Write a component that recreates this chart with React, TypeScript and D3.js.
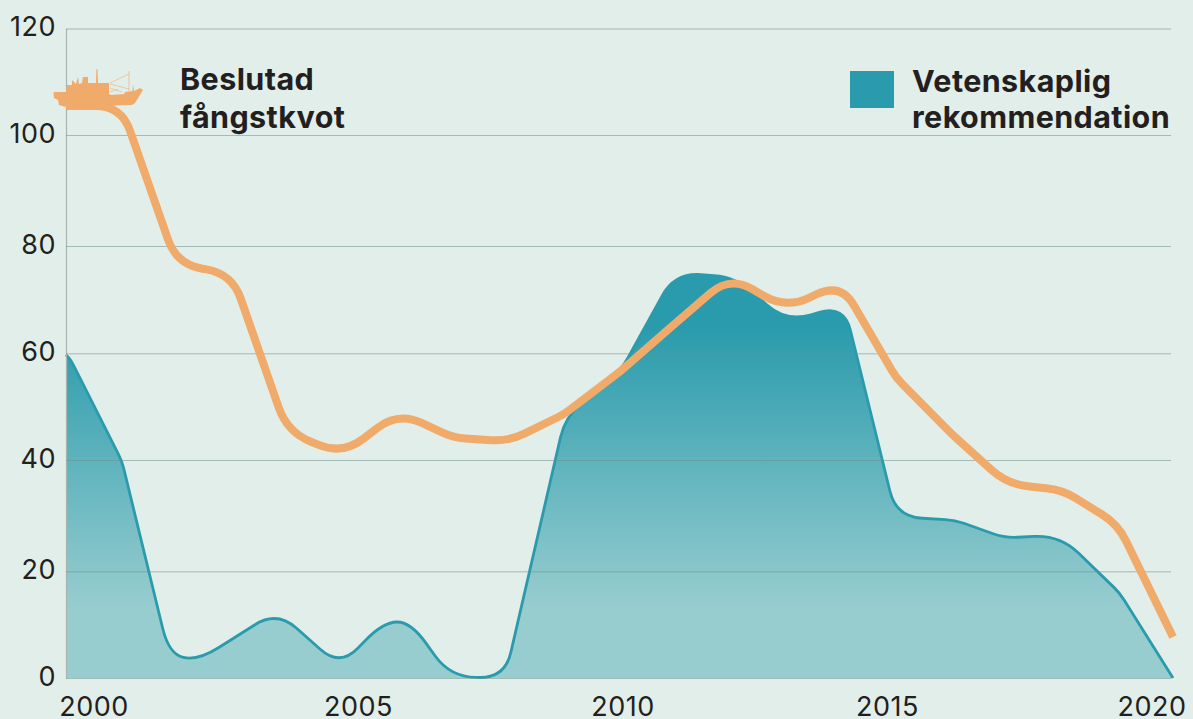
import { useEffect, useRef } from 'react';
import * as d3 from 'd3';

const yTicks = [0, 20, 40, 60, 80, 100, 120];
const yearLabels = [2000, 2005, 2010, 2015, 2020];

// Vetenskaplig rekommendation
const adviceYears = [2000, 2000.09, 2001.01, 2001.86, 2002.38, 2003.81, 2004.95, 2005.73, 2006.23, 2006.94, 2007.93, 2009.02, 2010.05, 2011, 2012.1, 2013.01, 2014.06, 2015, 2016.06, 2016.96, 2017.96, 2019.04, 2020];
const adviceValues = [59.7, 58.7, 39.8, 4.5, 3.2, 12.6, 2.1, 10.5, 10.5, 0.2, 0, 48.1, 57.2, 75, 74.2, 65.8, 69, 29.8, 29.2, 26, 26.5, 15.9, 0];

// Beslutad fångstkvot
const quotaYears = [2000, 2001, 2002, 2003, 2004, 2005, 2006, 2007, 2008, 2009, 2010, 2011, 2012, 2013, 2014, 2015, 2016, 2017, 2018, 2019, 2020];
const quotaValues = [105.45, 105.45, 76.6, 74.8, 45.2, 41, 49, 44.2, 43.5, 48.6, 56.5, 65.5, 74.4, 68.3, 73.1, 55.4, 44.9, 35.7, 34.6, 28.5, 7.7];

const WIDTH = 1193;
const HEIGHT = 719;
const BG = '#e2eee9';
const TEAL = '#2a9bac';
const ORANGE = '#f0aa6a';
const INK = '#231f20';
const FONT = 'Inter, "Noto Sans", sans-serif';
const CORNER = 26;

// ship silhouette sitting on the start of the quota line
const SHIP = 'M53.5,92 L54,98 L58,100 L59,105 L66,107 L132,105 L135,103 L143,90 L140,88 L134,91 L133,84 L132.5,91 L125,92 L124,94 L111,95 L109,94 L109,83 L98,83 L97.5,69 L96.5,69 L96,83 L88,83 L88,77 L83,77 L82,83 L79,84 L78,77 L76,84 L72,80 L72,85 L67,85 L66,92 Z';
const RIGGING = 'M110,83 L129,74 M110,84 L129,89 M129,71 L129,91 M110,88 L122,92 M110,92 L118,89';

// straight segments with rounded joins; shallow bends stay tight like the original
class RoundedCurve {
  ctx: any;
  radius: number;
  second = false;
  inArea = false;
  pts: [number, number][] = [];

  constructor(ctx: any, radius: number) {
    this.ctx = ctx;
    this.radius = radius;
  }
  areaStart() { this.inArea = true; this.second = false; }
  areaEnd() { this.ctx.closePath(); this.inArea = false; }
  lineStart() { this.pts = []; }
  point(x: number, y: number) { this.pts.push([x, y]); }
  lineEnd() {
    const p = this.pts;
    const first = this.inArea && this.second ? 'lineTo' : 'moveTo';
    this.ctx[first](p[0][0], p[0][1]);
    for (let i = 1; i < p.length - 1; i++) {
      const [ax, ay] = p[i - 1];
      const [bx, by] = p[i];
      const [cx, cy] = p[i + 1];
      const lenIn = Math.hypot(bx - ax, by - ay);
      const lenOut = Math.hypot(cx - bx, cy - by);
      let turn = Math.abs(Math.atan2(cy - by, cx - bx) - Math.atan2(by - ay, bx - ax));
      if (turn > Math.PI) turn = 2 * Math.PI - turn;
      const r = this.radius * Math.max(0.25, Math.min(1, turn / (Math.PI / 4)));
      const rIn = Math.min(r, lenIn / 2);
      const rOut = Math.min(r, lenOut / 2);
      this.ctx.lineTo(bx - ((bx - ax) / lenIn) * rIn, by - ((by - ay) / lenIn) * rIn);
      this.ctx.quadraticCurveTo(bx, by, bx + ((cx - bx) / lenOut) * rOut, by + ((cy - by) / lenOut) * rOut);
    }
    this.ctx.lineTo(p[p.length - 1][0], p[p.length - 1][1]);
    this.second = true;
  }
}
const curveRounded = (ctx: any) => new RoundedCurve(ctx, CORNER);

export default function App() {
  const svgRef = useRef<SVGSVGElement | null>(null);

  useEffect(() => {
    const svg = d3.select(svgRef.current);
    svg.selectAll('*').remove();

    const x = d3.scaleLinear().domain([2000, 2020]).range([66, 1173]);
    // gridlines in the original aren't perfectly even, so one stop per tick
    const y = d3.scaleLinear().domain(yTicks).range([678, 571.3, 460, 353.3, 246, 135, 28.5]);
    // the year labels sit on their own tighter spacing
    const xLabel = d3.scaleLinear().domain([2000, 2020]).range([94, 1152]);

    const grad = svg.append('defs').append('linearGradient')
      .attr('id', 'adviceFill')
      .attr('gradientUnits', 'userSpaceOnUse')
      .attr('x1', 0).attr('x2', 0)
      .attr('y1', y(65)).attr('y2', y(13));
    grad.append('stop').attr('offset', 0).attr('stop-color', TEAL);
    grad.append('stop').attr('offset', 1).attr('stop-color', '#98cdcf');

    svg.append('rect').attr('width', WIDTH).attr('height', HEIGHT).attr('fill', BG);

    const adviceData = adviceYears.map((yr, i) => [yr, adviceValues[i]] as [number, number]);
    const quotaData = quotaYears.map((yr, i) => [yr, quotaValues[i]] as [number, number]);

    const area = d3.area<[number, number]>()
      .x(d => x(d[0])).y0(y(0)).y1(d => y(d[1]))
      .curve(curveRounded as any);
    const line = d3.line<[number, number]>()
      .x(d => x(d[0])).y(d => y(d[1]))
      .curve(curveRounded as any);

    svg.append('path').datum(adviceData).attr('d', area).attr('fill', 'url(#adviceFill)');
    svg.append('path').datum(adviceData).attr('d', line)
      .attr('fill', 'none').attr('stroke', TEAL).attr('stroke-width', 2.8);

    // gridlines and the y labels
    const yAxis = svg.append('g')
      .attr('transform', 'translate(66,0)')
      .call(d3.axisLeft(y).tickValues(yTicks).tickSizeInner(-(1171 - 66)).tickSizeOuter(0).tickPadding(10));
    yAxis.select('.domain').attr('stroke', '#a7b5af').attr('stroke-width', 1.2);
    yAxis.selectAll('line').attr('stroke', '#6f8f8c').attr('stroke-opacity', 0.55).attr('stroke-width', 1);
    yAxis.selectAll('text')
      .attr('fill', INK)
      .attr('dy', '7px')
      .style('font-family', FONT)
      .style('font-size', '27px')
      .style('letter-spacing', '0.5px');

    svg.append('g').selectAll('text').data(yearLabels).enter().append('text')
      .attr('x', d => xLabel(d))
      .attr('y', 716)
      .attr('text-anchor', 'middle')
      .attr('fill', INK)
      .style('font-family', FONT)
      .style('font-size', '27px')
      .style('letter-spacing', '0.5px')
      .text(d => d);

    svg.append('path').attr('d', SHIP).attr('fill', ORANGE);
    svg.append('path').attr('d', RIGGING)
      .attr('fill', 'none').attr('stroke', ORANGE).attr('stroke-width', 0.8).attr('opacity', 0.7);

    svg.append('path').datum(quotaData).attr('d', line)
      .attr('fill', 'none').attr('stroke', ORANGE).attr('stroke-width', 8);

    const label = (text: string, lx: number, ly: number) =>
      svg.append('text').attr('x', lx).attr('y', ly).attr('fill', INK)
        .style('font-family', FONT).style('font-size', '30.5px').style('font-weight', 700)
        .style('letter-spacing', '0.4px')
        .text(text);
    label('Beslutad', 180, 90);
    label('fångstkvot', 180, 128);
    label('Vetenskaplig', 912, 92);
    label('rekommendation', 912, 128);

    svg.append('rect').attr('x', 850).attr('y', 71).attr('width', 44).attr('height', 37).attr('fill', TEAL);
  }, []);

  return (
    <svg
      ref={svgRef}
      width={WIDTH}
      height={HEIGHT}
      style={{ position: 'absolute', top: 0, left: 0, display: 'block' }}
    />
  );
}
